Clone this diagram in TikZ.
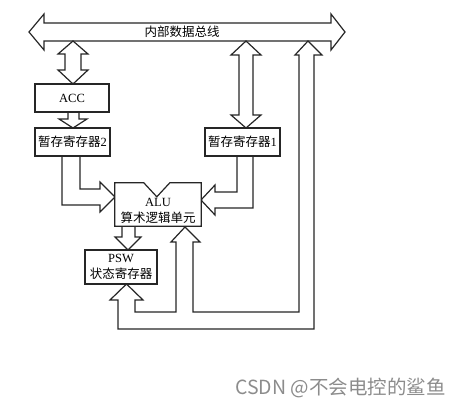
\documentclass[tikz,border=0pt]{standalone}
\usepackage{fontspec}
\setmainfont{Liberation Serif}
\newfontfamily\cjk{Noto Sans CJK SC}
\begin{document}
\begin{tikzpicture}[x=1pt,y=-1pt,
  fat/.style={draw=black!85, line width=1.2pt, fill=white, line join=miter},
  reg/.style={draw=black!85, line width=1.2pt, fill=white, inner sep=0pt, font=\fontsize{12.5}{16}\selectfont},
  lbl/.style={inner sep=0pt, font=\fontsize{12.5}{16.5}\selectfont, align=center}]
\useasboundingbox (0,0) rectangle (461,406);
% bus
\draw[fat] (29,32) -- (44,14) -- (44,23) -- (331,23) -- (331,14) -- (345,32) -- (331,50) -- (331,41) -- (44,41) -- (44,50) -- cycle;
\node[lbl] (buslabel) at (182,32) {\cjk 内部数据总线};
% bus <-> ACC
\draw[fat] (73,41) -- (88,54) -- (81,54) -- (81,70) -- (88,70) -- (73,84) -- (58,70) -- (65,70) -- (65,54) -- (58,54) -- cycle;
% bus <-> tmp1
\draw[fat] (246,41) -- (261,55) -- (253,55) -- (253,115) -- (261,115) -- (246,128) -- (231,115) -- (239,115) -- (239,55) -- (231,55) -- cycle;
% ACC -> tmp2
\draw[fat] (68,112) -- (68,119) -- (59,119) -- (73,128) -- (87,119) -- (79,119) -- (79,112);
% tmp2 -> ALU
\draw[fat] (80,156) -- (80,189) -- (100,189) -- (100,182) -- (115,197) -- (100,212) -- (100,205) -- (62,205) -- (62,156);
% tmp1 -> ALU
\draw[fat] (237,156) -- (237,192) -- (215,192) -- (215,185) -- (201,200) -- (215,215) -- (215,208) -- (253,208) -- (253,156);
% ALU -> PSW
\draw[fat] (122,226) -- (122,237) -- (115,237) -- (128,250) -- (141,237) -- (135,237) -- (135,226);
% feedback to ALU, PSW and bus
\draw[fat] (308,41) -- (322,55) -- (314,55) -- (314,329) -- (118,329) -- (118,300) -- (110,300) -- (126.5,284) -- (143,300) -- (135,300) -- (135,312) -- (176,312) -- (176,242) -- (171,242) -- (185,227) -- (200,242) -- (193,242) -- (193,312) -- (299,312) -- (299,55) -- (295,55) -- cycle;
% registers
\node[reg, minimum width=74pt, minimum height=28pt] (acc) at (72,98) {ACC};
\node[reg, minimum width=75pt, minimum height=28pt] (tmp2) at (72.5,142) {{\cjk 暂存寄存器}2};
\node[reg, minimum width=75pt, minimum height=28pt] (tmp1) at (242.5,142) {{\cjk 暂存寄存器}1};
\node[reg, minimum width=72pt, minimum height=34pt, align=center] (psw) at (121,267) {PSW\\{\cjk 状态寄存器}};
% ALU
\node[minimum width=86pt, minimum height=43pt, inner sep=0pt] (alu) at (158,204.5) {};
\draw[draw=black!85, line width=1.2pt, fill=white] (alu.north west) -- ++(29,0) -- ++(13,14) -- ++(13,-14) -- (alu.north east) -- (alu.south east) -- (alu.south west) -- cycle;
\node[lbl] (alutext) at (158,211) {ALU\\{\cjk 算术逻辑单元}};
% watermark
\node[anchor=west, text=black!45, font=\cjk\fontsize{19.5}{21}\selectfont, inner sep=0pt] (wm) at (235,388) {CSDN @不会电控的鲨鱼};
\end{tikzpicture}
\end{document}
